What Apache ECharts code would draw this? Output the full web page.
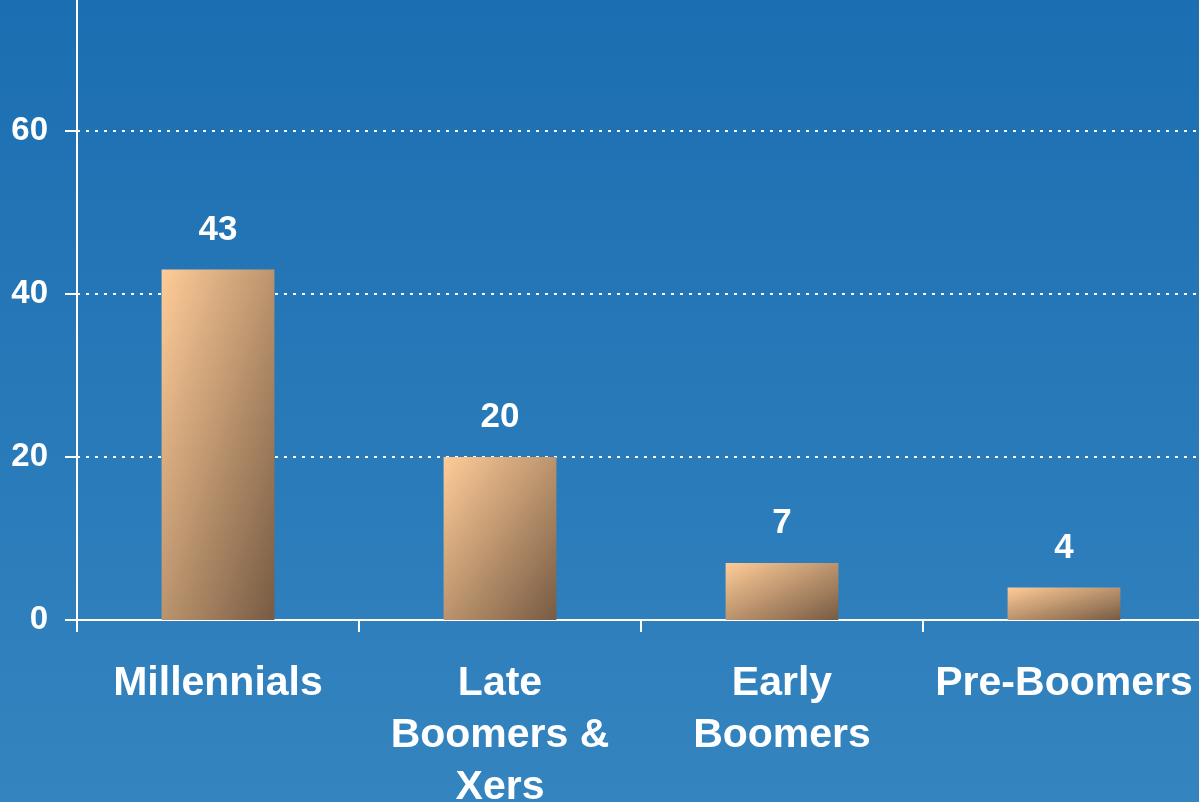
<!DOCTYPE html>
<html>
<head>
<meta charset="utf-8">
<script src="https://cdn.jsdelivr.net/npm/echarts@6/dist/echarts.min.js"></script>
<style>
html,body{margin:0;padding:0;width:1199px;height:802px;overflow:hidden;}
#c{width:1199px;height:802px;}
</style>
</head>
<body>
<div id="c"></div>
<script>
var categories = ["Millennials", "Late Boomers & Xers", "Early Boomers", "Pre-Boomers"];
var values = [43, 20, 7, 4];
var yTicks = [0, 20, 40, 60];

var FONT = '"Liberation Sans", Arial, sans-serif';
var barTop = '#FFCC98';
var barBottom = '#775B43';
var CAT_FONT_SIZE = 41;
var CAT_MAX_WIDTH = 266;

// word-wrap category names without trailing spaces (keeps each line centred)
var measureCtx = document.createElement('canvas').getContext('2d');
measureCtx.font = 'bold ' + CAT_FONT_SIZE + 'px ' + FONT;
function wrapWords(text) {
  var words = text.split(' ');
  var lines = [];
  var cur = '';
  words.forEach(function (w) {
    var test = cur ? cur + ' ' + w : w;
    if (cur && measureCtx.measureText(test).width > CAT_MAX_WIDTH) {
      lines.push(cur);
      cur = w;
    } else {
      cur = test;
    }
  });
  if (cur) lines.push(cur);
  return lines.join('\n');
}

var chart = echarts.init(document.getElementById('c'), null, {renderer: 'canvas'});

var option = {
  backgroundColor: new echarts.graphic.LinearGradient(0, 0, 0, 1, [
    {offset: 0, color: '#1B6EB1'},
    {offset: 1, color: '#3484BF'}
  ]),
  animation: false,
  grid: {left: 77, right: -6, top: -32, bottom: 182, containLabel: false, outerBoundsMode: 'none'},
  xAxis: {
    type: 'category',
    data: categories,
    boundaryGap: true,
    axisLine: {show: true, lineStyle: {color: '#FFFFFF', width: 2}},
    axisTick: {show: true, length: 12, alignWithLabel: false, lineStyle: {color: '#FFFFFF', width: 2}},
    axisLabel: {
      interval: 0,
      color: '#FFFFFF',
      fontFamily: FONT,
      fontWeight: 'bold',
      fontSize: CAT_FONT_SIZE,
      lineHeight: 52,
      margin: 38,
      formatter: function (v) { return wrapWords(v); }
    },
    splitLine: {show: false}
  },
  yAxis: {
    type: 'value',
    min: 0,
    max: 80,
    interval: 20,
    axisLine: {show: true, lineStyle: {color: '#FFFFFF', width: 2}},
    axisTick: {show: true, length: 12, lineStyle: {color: '#FFFFFF', width: 2}},
    axisLabel: {
      color: '#FFFFFF',
      fontFamily: FONT,
      fontWeight: 'bold',
      fontSize: 33,
      margin: 29,
      padding: [8, 0, 0, 0],
      formatter: function (v) { return yTicks.indexOf(v) >= 0 ? String(v) : ''; }
    },
    splitLine: {
      show: true,
      lineStyle: {color: '#FFFFFF', width: 2, type: [3, 6]}
    }
  },
  series: [{
    type: 'bar',
    data: values,
    barWidth: '40%',
    itemStyle: {color: barTop},
    label: {
      show: true,
      position: 'top',
      distance: 22,
      color: '#FFFFFF',
      fontFamily: FONT,
      fontWeight: 'bold',
      fontSize: 35
    }
  }]
};
chart.setOption(option);

// Per-bar diagonal gradient whose isolines run along the bar's anti-diagonal
var itemData = values.map(function (v, i) {
  var p1 = chart.convertToPixel({seriesIndex: 0}, [i, v]);
  var p0 = chart.convertToPixel({seriesIndex: 0}, [i, 0]);
  var h = Math.abs(p0[1] - p1[1]);
  var w = Math.abs(chart.getModel().getSeriesByIndex(0).getData().getItemLayout(i).width);
  var d = h * h + w * w;
  var x2 = 2 * h * h / d;
  var y2 = 2 * w * w / d;
  return {
    value: v,
    itemStyle: {
      color: new echarts.graphic.LinearGradient(0, 0, x2, y2, [
        {offset: 0, color: barTop},
        {offset: 1, color: barBottom}
      ])
    }
  };
});
chart.setOption({series: [{data: itemData}]});
</script>
</body>
</html>
